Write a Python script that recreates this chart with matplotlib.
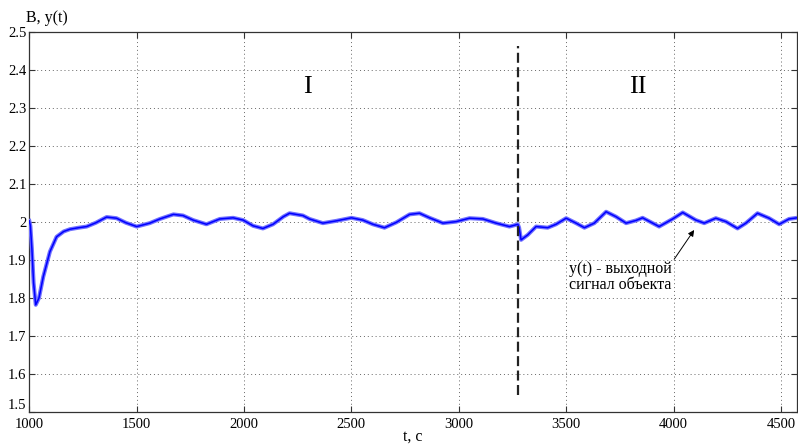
import matplotlib
matplotlib.use("Agg")
import matplotlib.pyplot as plt

# data
t = [1000, 1005, 1012, 1020, 1030, 1045, 1065, 1096, 1127, 1160, 1189, 1230, 1267,
     1310, 1360, 1406, 1450, 1500, 1561, 1608, 1671, 1716, 1763, 1825, 1887, 1949,
     1996, 2042, 2088, 2135, 2183, 2212, 2274, 2305, 2367, 2430, 2500, 2553, 2600,
     2654, 2709, 2771, 2817, 2864, 2926, 2988, 3050, 3112, 3174, 3236, 3275, 3281,
     3290, 3321, 3360, 3414, 3453, 3500, 3546, 3585, 3631, 3686, 3732, 3779, 3825,
     3856, 3933, 3996, 4043, 4104, 4143, 4197, 4244, 4298, 4337, 4391, 4445, 4492,
     4538, 4575]
y = [2.003, 1.99, 1.93, 1.84, 1.782, 1.80, 1.856, 1.922, 1.961, 1.975, 1.981, 1.985, 1.988,
     1.998, 2.013, 2.01, 1.998, 1.988, 1.997, 2.008, 2.02, 2.017, 2.005, 1.994, 2.008, 2.011,
     2.005, 1.99, 1.983, 1.994, 2.014, 2.023, 2.017, 2.008, 1.997, 2.003, 2.011, 2.005, 1.994,
     1.985, 1.999, 2.02, 2.023, 2.011, 1.997, 2.001, 2.01, 2.008, 1.997, 1.988, 1.994, 1.985,
     1.953, 1.966, 1.988, 1.985, 1.994, 2.01, 1.997, 1.985, 1.997, 2.027, 2.014, 1.997, 2.004,
     2.011, 1.988, 2.008, 2.025, 2.005, 1.997, 2.01, 2.001, 1.983, 1.997, 2.023, 2.01, 1.994,
     2.008, 2.011]

xticks = [1000, 1500, 2000, 2500, 3000, 3500, 4000, 4500]
xticklabels = ["1000", "1500", "2000", "2500", "3000", "3500", "4000", "4500"]
yticks = [1.5, 1.6, 1.7, 1.8, 1.9, 2.0, 2.1, 2.2, 2.3, 2.4, 2.5]
yticklabels = ["1.5", "1.6", "1.7", "1.8", "1.9", "2", "2.1", "2.2", "2.3", "2.4", "2.5"]

switch_t = 3277
switch_range = (1.545, 2.463)
region_labels = ["I", "II"]
region_pos = [(2294, 2.355), (3833, 2.355)]
annot_text = "y(t) - выходной\nсигнал объекта"
annot_tip = (4096, 1.979)
annot_tail = (4003, 1.902)
annot_text_pos = (3515, 1.855)

plt.rcParams['font.family'] = ['Liberation Serif', 'DejaVu Serif']

fig = plt.figure(figsize=(7.98, 4.44), dpi=100)
ax = fig.add_axes([29.3 / 798, 1 - 412 / 444, (797 - 29.3) / 798, 380 / 444])

ax.plot(t, y, color='#7070ff', lw=2.9, solid_joinstyle='round', zorder=3)
ax.plot(t, y, color='#0000ff', lw=1.1, zorder=4)

ax.vlines(switch_t, switch_range[0], switch_range[1], colors='#222222',
          linestyles=(0, (4.5, 2)), lw=1.6, zorder=5)

for lab, (px, py) in zip(region_labels, region_pos):
    ax.text(px, py, lab, fontsize=19, ha='center', va='center')

ax.annotate('', xy=annot_tip, xytext=annot_tail,
            arrowprops=dict(arrowstyle='-|>', color='black', lw=0.7,
                            mutation_scale=9, shrinkA=0, shrinkB=0))
ax.text(annot_text_pos[0], annot_text_pos[1], annot_text, fontsize=11.5,
        ha='left', va='center', linespacing=1.0)

ax.set_xlim(1000, 4575)
ax.set_ylim(1.5, 2.5)
ax.set_xticks(xticks)
ax.set_xticklabels(xticklabels)
ax.set_yticks(yticks)
ax.set_yticklabels(yticklabels)
ax.tick_params(direction='in', length=4, width=0.8, top=True, right=True,
               labelsize=10.5, colors='#333333', labelcolor='black')
ax.tick_params(axis='x', pad=4)
ax.tick_params(axis='y', pad=2)
ax.get_yticklabels()[0].set_va('bottom')
ax.grid(True, linestyle=(0, (1, 3)), color='#666666', lw=0.7)
for s in ax.spines.values():
    s.set_color('#333333')
    s.set_linewidth(0.9)

fig.text(26 / 798, 1 - 22 / 444, "B, y(t)", fontsize=11.5, ha='left', va='baseline')
fig.text(413 / 798, 1 - 441 / 444, "t, c", fontsize=11.5, ha='center', va='baseline')

fig.savefig("out.png", dpi=100)
